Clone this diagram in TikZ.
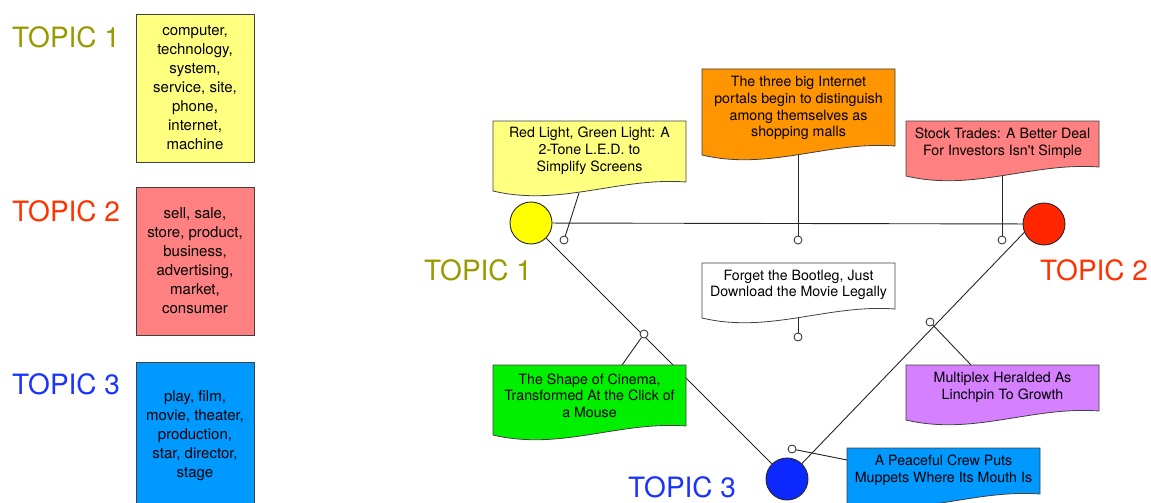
\documentclass[tikz,border=0pt]{standalone}
\usepackage{fontspec}
\setmainfont{TeX Gyre Heros}[Ligatures=TeXOff]
\definecolor{kwyellow}{RGB}{255,255,128}
\definecolor{kwred}{RGB}{255,128,128}
\definecolor{kwblue}{RGB}{0,153,255}
\definecolor{calorange}{RGB}{255,149,0}
\definecolor{calgreen}{RGB}{0,240,0}
\definecolor{calviolet}{RGB}{213,128,255}
\definecolor{topicA}{RGB}{153,153,0}
\definecolor{topicB}{RGB}{255,51,0}
\definecolor{topicC}{RGB}{26,51,255}
\definecolor{hubyellow}{RGB}{255,255,0}
\definecolor{hubred}{RGB}{255,38,0}
\definecolor{hubblue}{RGB}{13,40,255}
\newcommand\calloutshape[5]{%
  \pgfmathsetmacro\cshRx{#1+#3}%
  \pgfmathsetmacro\cshLy{#2+#4}%
  \pgfmathsetmacro\cshRy{#2+#4-9}%
  \pgfmathsetmacro\cshPa{#1+0.65*#3}%
  \pgfmathsetmacro\cshPb{#1+0.35*#3}%
  \pgfmathsetmacro\cshYa{#2+#4-14}%
  \pgfmathsetmacro\cshYb{#2+#4+16}%
  \filldraw[callshape, fill=#5] (#1,#2) -- (\cshRx,#2) -- (\cshRx,\cshRy)
    .. controls (\cshPa,\cshYa) and (\cshPb,\cshYb) .. (#1,\cshLy) -- cycle;
}
\begin{document}
\begin{tikzpicture}[x=1pt,y=-1pt,
  kwbox/.style={draw=black!75, line width=0.8pt, minimum width=118pt, minimum height=148pt,
    align=center, font=\fontsize{15}{19}\selectfont, inner sep=0pt},
  topiclbl/.style={font=\fontsize{28}{30}\selectfont, inner sep=0pt, anchor=west},
  calltext/.style={align=center, font=\fontsize{14.2}{16.7}\selectfont, inner sep=0pt},
  callshape/.style={draw=black!75, line width=0.8pt},
  hub/.style={circle, draw=black!85, line width=0.9pt, minimum size=42pt, inner sep=0pt},
  pin/.style={circle, draw=black!85, fill=white, line width=0.8pt, minimum size=8pt, inner sep=0pt},
  link/.style={draw=black!85, line width=0.9pt}]
\useasboundingbox (0,0) rectangle (1151,503);
\clip (0,0) rectangle (1151,503);

% left legend
\node[topiclbl, text=topicA] (lt1) at (12,37) {TOPIC 1};
\node[topiclbl, text=topicB] (lt2) at (12,211) {TOPIC 2};
\node[topiclbl, text=topicC] (lt3) at (12,384) {TOPIC 3};
\node[kwbox, fill=kwyellow] (k1) at (195,88) {computer,\\technology,\\system,\\service, site,\\phone,\\internet,\\machine};
\node[kwbox, fill=kwred] (k2) at (195,261) {sell, sale,\\store, product,\\business,\\advertising,\\market,\\consumer};
\node[kwbox, fill=kwblue] (k3) at (195,436) {play, film,\\movie, theater,\\production,\\star, director,\\stage};

% hubs
\node[hub, fill=hubyellow] (Y) at (531,223) {};
\node[hub, fill=hubred] (R) at (1044,224) {};
\node[hub, fill=hubblue] (B) at (787,479) {};
\node[topiclbl, text=topicA] (rt1) at (424,270) {TOPIC 1};
\node[topiclbl, text=topicB] (rt2) at (1040,270) {TOPIC 2};
\node[topiclbl, text=topicC] (rt3) at (628,487) {TOPIC 3};

% main links
\draw[link] (Y) -- (R);
\draw[link] (Y) -- (B);
\draw[link] (B) -- (R.203);

% callouts
\calloutshape{493}{121}{193}{70}{kwyellow}
\node[calltext] (c1) at (589.5,150.7) {Red Light, Green Light: A\\2-Tone L.E.D. to\\Simplify Screens};
\calloutshape{702}{69}{193}{86}{calorange}
\node[calltext] (c2) at (798.5,108.3) {The three big Internet\\portals begin to distinguish\\among themselves as\\shopping malls};
\calloutshape{906}{121}{193}{55}{kwred}
\node[calltext] (c3) at (1002.5,143) {Stock Trades: A Better Deal\\For Investors Isn't Simple};
\calloutshape{702}{263}{193}{55}{white}
\node[calltext] (c4) at (798.5,285) {Forget the Bootleg, Just\\Download the Movie Legally};
\calloutshape{493}{365}{193}{70}{calgreen}
\node[calltext] (c5) at (589.5,395.7) {The Shape of Cinema,\\Transformed At the Click of\\a Mouse};
\calloutshape{906}{365}{193}{55}{calviolet}
\node[calltext] (c6) at (1002.5,387.3) {Multiplex Heralded As\\Linchpin To Growth};
\calloutshape{847}{448}{193}{55}{kwblue}
\node[calltext] (c7) at (943.5,470.3) {A Peaceful Crew Puts\\Muppets Where Its Mouth Is};

% pins
\node[pin] (p1) at (564,240) {};
\node[pin] (p2) at (798,240) {};
\node[pin] (p3) at (1002,240) {};
\node[pin] (p4) at (798,337) {};
\node[pin] (p5) at (644,334) {};
\node[pin] (p6) at (930,322) {};
\node[pin] (p7) at (792,449) {};

% callout attachment points
\coordinate (a1) at (579,193);
\coordinate (a2) at (798,155);
\coordinate (a3) at (1002,176);
\coordinate (a4) at (798,318);
\coordinate (a5) at (622,365);
\coordinate (a6) at (971,365);
\coordinate (a7) at (847,460);
\draw[link] (a1) -- (p1);
\draw[link] (a2) -- (p2);
\draw[link] (a3) -- (p3);
\draw[link] (a4) -- (p4);
\draw[link] (a5) -- (p5);
\draw[link] (a6) -- (p6);
\draw[link] (a7) -- (p7);
\end{tikzpicture}
\end{document}
